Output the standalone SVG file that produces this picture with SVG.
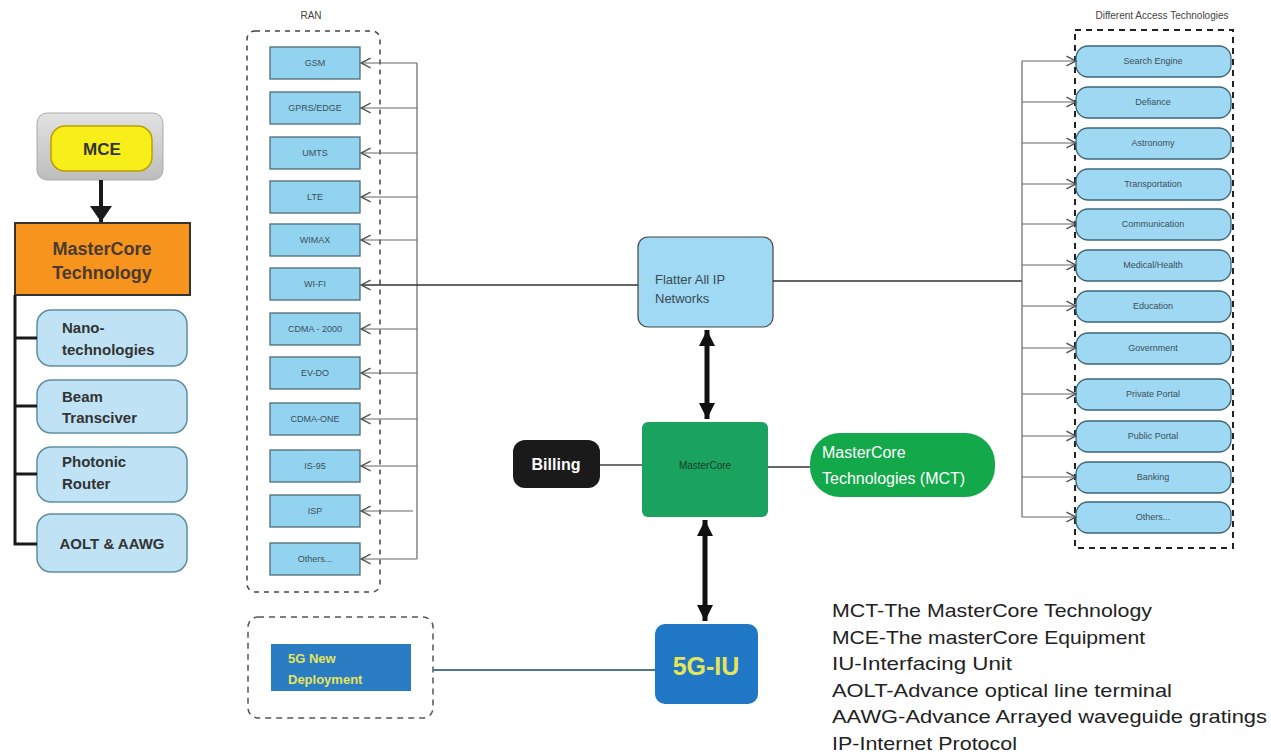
<svg xmlns="http://www.w3.org/2000/svg" width="1271" height="756" viewBox="0 0 1271 756">
<defs>
<marker id="open" markerUnits="userSpaceOnUse" markerWidth="12" markerHeight="12" viewBox="0 0 10 10" refX="9" refY="5" orient="auto">
<path d="M1,1 L9,5 L1,9" fill="none" stroke="#555" stroke-width="1.2"/>
</marker>
<marker id="solid" markerUnits="userSpaceOnUse" markerWidth="20" markerHeight="20" viewBox="0 0 20 20" refX="18" refY="10" orient="auto-start-reverse">
<path d="M2,2 L18,10 L2,18 Z" fill="#111"/>
</marker>
<marker id="down" markerUnits="userSpaceOnUse" markerWidth="24" markerHeight="24" viewBox="0 0 24 24" refX="20" refY="12" orient="auto">
<path d="M4,1 L20,12 L4,23 Z" fill="#1a1a1a"/>
</marker>
<linearGradient id="gray" x1="0" y1="0" x2="0" y2="1">
<stop offset="0" stop-color="#e2e2e2"/><stop offset="1" stop-color="#bdbdbd"/>
</linearGradient>
</defs>
<style>
text{font-family:"Liberation Sans",Arial,sans-serif}
.ran{fill:#92d3f0;stroke:#4f6b78;stroke-width:1.3}
.ranT{font-size:9px;fill:#3d4f5a;text-anchor:middle}
.acc{fill:#9fd8f2;stroke:#3d6578;stroke-width:1.3}
.accT{font-size:9px;fill:#3d4f5a;text-anchor:middle}
.tech{fill:#bfe3f5;stroke:#5f8ea3;stroke-width:1.5}
.techT{font-size:15px;font-weight:bold;fill:#333}
.thin{stroke:#666;stroke-width:1.2;fill:none}
.legend{font-size:19px;fill:#222}
</style>
<rect width="1271" height="756" fill="#ffffff"/>

<!-- Left column -->
<g id="mce">
<rect x="37" y="113" width="126" height="67" rx="10" fill="url(#gray)" stroke="#aaa" stroke-width="1"/>
<rect x="51" y="126" width="101" height="45" rx="14" fill="#f7ee1a" stroke="#b9a000" stroke-width="1.5"/>
<text x="102" y="155" font-size="17" font-weight="bold" fill="#333" text-anchor="middle">MCE</text>
</g>
<g id="mct-box">
<rect x="15" y="223" width="175" height="72" fill="#f7941d" stroke="#333" stroke-width="2"/>
<text x="102" y="255" font-size="18" font-weight="bold" fill="#4a3a30" text-anchor="middle">MasterCore</text>
<text x="102" y="279" font-size="18" font-weight="bold" fill="#4a3a30" text-anchor="middle">Technology</text>
</g>
<g id="nano">
<rect x="37" y="310" width="150" height="56" rx="14" class="tech"/>
<text x="62" y="333" class="techT">Nano-</text>
<text x="62" y="355" class="techT">technologies</text>
</g>
<g id="beam">
<rect x="37" y="380" width="150" height="53" rx="14" class="tech"/>
<text x="62" y="402" class="techT">Beam</text>
<text x="62" y="423" class="techT">Transciver</text>
</g>
<g id="photonic">
<rect x="37" y="447" width="150" height="55" rx="14" class="tech"/>
<text x="62" y="467" class="techT">Photonic</text>
<text x="62" y="489" class="techT">Router</text>
</g>
<g id="aolt">
<rect x="37" y="514" width="150" height="58" rx="14" class="tech"/>
<text x="112" y="549" class="techT" text-anchor="middle">AOLT &amp; AAWG</text>
</g>

<!-- RAN -->
<g id="ran-group">
<text x="311" y="19" font-size="10" fill="#444" text-anchor="middle">RAN</text>
<rect x="247" y="31" width="133" height="561" rx="8" fill="none" stroke="#444" stroke-width="1.5" stroke-dasharray="5 5"/>
</g>
<g id="ran-gsm"><rect x="270" y="47" width="90" height="32" class="ran"/><text x="315" y="66" class="ranT">GSM</text></g>
<g id="ran-gprs"><rect x="270" y="92" width="90" height="32" class="ran"/><text x="315" y="111" class="ranT">GPRS/EDGE</text></g>
<g id="ran-umts"><rect x="270" y="137" width="90" height="32" class="ran"/><text x="315" y="156" class="ranT">UMTS</text></g>
<g id="ran-lte"><rect x="270" y="181" width="90" height="32" class="ran"/><text x="315" y="200" class="ranT">LTE</text></g>
<g id="ran-wimax"><rect x="270" y="224" width="90" height="32" class="ran"/><text x="315" y="243" class="ranT">WIMAX</text></g>
<g id="ran-wifi"><rect x="270" y="268" width="90" height="32" class="ran"/><text x="315" y="287" class="ranT">WI-FI</text></g>
<g id="ran-cdma2000"><rect x="270" y="313" width="90" height="32" class="ran"/><text x="315" y="332" class="ranT">CDMA - 2000</text></g>
<g id="ran-evdo"><rect x="270" y="357" width="90" height="32" class="ran"/><text x="315" y="376" class="ranT">EV-DO</text></g>
<g id="ran-cdmaone"><rect x="270" y="403" width="90" height="32" class="ran"/><text x="315" y="422" class="ranT">CDMA-ONE</text></g>
<g id="ran-is95"><rect x="270" y="450" width="90" height="32" class="ran"/><text x="315" y="469" class="ranT">IS-95</text></g>
<g id="ran-isp"><rect x="270" y="495" width="90" height="32" class="ran"/><text x="315" y="514" class="ranT">ISP</text></g>
<g id="ran-others"><rect x="270" y="543" width="90" height="32" class="ran"/><text x="315" y="562" class="ranT">Others...</text></g>

<!-- Access technologies -->
<g id="access-group">
<text x="1162" y="19" font-size="10" fill="#444" text-anchor="middle">Different Access Technologies</text>
<rect x="1075" y="30" width="158" height="518" fill="none" stroke="#222" stroke-width="2" stroke-dasharray="6 5"/>
</g>
<g id="acc-search"><rect x="1076" y="46" width="155" height="31" rx="12" class="acc"/><text x="1153" y="64" class="accT">Search Engine</text></g>
<g id="acc-defiance"><rect x="1076" y="87" width="155" height="31" rx="12" class="acc"/><text x="1153" y="105" class="accT">Defiance</text></g>
<g id="acc-astronomy"><rect x="1076" y="128" width="155" height="31" rx="12" class="acc"/><text x="1153" y="146" class="accT">Astronomy</text></g>
<g id="acc-transport"><rect x="1076" y="169" width="155" height="31" rx="12" class="acc"/><text x="1153" y="187" class="accT">Transportation</text></g>
<g id="acc-comm"><rect x="1076" y="209" width="155" height="31" rx="12" class="acc"/><text x="1153" y="227" class="accT">Communication</text></g>
<g id="acc-medical"><rect x="1076" y="250" width="155" height="31" rx="12" class="acc"/><text x="1153" y="268" class="accT">Medical/Health</text></g>
<g id="acc-education"><rect x="1076" y="291" width="155" height="31" rx="12" class="acc"/><text x="1153" y="309" class="accT">Education</text></g>
<g id="acc-government"><rect x="1076" y="333" width="155" height="31" rx="12" class="acc"/><text x="1153" y="351" class="accT">Government</text></g>
<g id="acc-private"><rect x="1076" y="379" width="155" height="31" rx="12" class="acc"/><text x="1153" y="397" class="accT">Private Portal</text></g>
<g id="acc-public"><rect x="1076" y="421" width="155" height="31" rx="12" class="acc"/><text x="1153" y="439" class="accT">Public Portal</text></g>
<g id="acc-banking"><rect x="1076" y="462" width="155" height="31" rx="12" class="acc"/><text x="1153" y="480" class="accT">Banking</text></g>
<g id="acc-others"><rect x="1076" y="502" width="155" height="31" rx="12" class="acc"/><text x="1153" y="520" class="accT">Others...</text></g>

<!-- Center nodes -->
<g id="flatter">
<rect x="638" y="237" width="135" height="90" rx="10" fill="#9fd9f3" stroke="#444" stroke-width="1.2"/>
<text x="655" y="284" font-size="13" fill="#3a4a55">Flatter All IP</text>
<text x="655" y="303" font-size="13" fill="#3a4a55">Networks</text>
</g>
<g id="mastercore">
<rect x="642" y="422" width="126" height="95" rx="6" fill="#19a35f"/>
<text x="705" y="469" font-size="10" fill="#1e3a2a" text-anchor="middle">MasterCore</text>
</g>
<g id="billing">
<rect x="513" y="440" width="87" height="48" rx="12" fill="#1a1a1a"/>
<text x="556" y="470" font-size="16" font-weight="bold" fill="#fff" text-anchor="middle">Billing</text>
</g>
<g id="mct">
<rect x="810" y="433" width="185" height="64" rx="30" fill="#13a84a"/>
<text x="822" y="458" font-size="16" fill="#fff">MasterCore</text>
<text x="822" y="484" font-size="16" fill="#fff">Technologies (MCT)</text>
</g>
<g id="iu5g">
<rect x="655" y="624" width="103" height="80" rx="10" fill="#1f77c6"/>
<text x="706" y="675" font-size="25" font-weight="bold" fill="#e6e45a" text-anchor="middle">5G-IU</text>
</g>
<g id="new-deploy">
<rect x="248" y="617" width="185" height="101" rx="10" fill="none" stroke="#555" stroke-width="1.5" stroke-dasharray="6 5"/>
<rect x="271" y="644" width="140" height="47" fill="#2a7cc3"/>
<text x="288" y="663" font-size="13" font-weight="bold" fill="#e6e45a">5G New</text>
<text x="288" y="684" font-size="13" font-weight="bold" fill="#e6e45a">Deployment</text>
</g>

<!-- Legend -->
<g id="legend" class="legend">
<text x="832" y="617" class="legend" textLength="320" lengthAdjust="spacingAndGlyphs">MCT-The MasterCore Technology</text>
<text x="832" y="644" class="legend" textLength="313" lengthAdjust="spacingAndGlyphs">MCE-The masterCore Equipment</text>
<text x="832" y="670" class="legend" textLength="180" lengthAdjust="spacingAndGlyphs">IU-Interfacing Unit</text>
<text x="832" y="697" class="legend" textLength="340" lengthAdjust="spacingAndGlyphs">AOLT-Advance optical line terminal</text>
<text x="832" y="723" class="legend" textLength="435" lengthAdjust="spacingAndGlyphs">AAWG-Advance Arrayed waveguide gratings</text>
<text x="832" y="750" class="legend" textLength="185" lengthAdjust="spacingAndGlyphs">IP-Internet Protocol</text>
</g>

<!-- Connectors -->
<g id="connectors">
<!-- MCE to MasterCore Technology -->
<line x1="101" y1="180" x2="101" y2="222" stroke="#1a1a1a" stroke-width="4" marker-end="url(#down)"/>
<!-- tree -->
<path d="M15,295 V544 H37 M15,338 H37 M15,406 H37 M15,474 H37" fill="none" stroke="#1a1a1a" stroke-width="3"/>
<!-- RAN bus -->
<line x1="417" y1="63" x2="417" y2="559" class="thin"/>
<line x1="417" y1="63" x2="361" y2="63" class="thin" marker-end="url(#open)"/>
<line x1="417" y1="108" x2="361" y2="108" class="thin" marker-end="url(#open)"/>
<line x1="417" y1="153" x2="361" y2="153" class="thin" marker-end="url(#open)"/>
<line x1="417" y1="197" x2="361" y2="197" class="thin" marker-end="url(#open)"/>
<line x1="417" y1="240" x2="361" y2="240" class="thin" marker-end="url(#open)" stroke="#333"/>
<line x1="417" y1="329" x2="361" y2="329" class="thin" marker-end="url(#open)"/>
<line x1="417" y1="373" x2="361" y2="373" class="thin" marker-end="url(#open)"/>
<line x1="417" y1="419" x2="361" y2="419" class="thin" marker-end="url(#open)"/>
<line x1="417" y1="466" x2="361" y2="466" class="thin" marker-end="url(#open)"/>
<line x1="413" y1="511" x2="361" y2="511" class="thin" marker-end="url(#open)" stroke="#333"/>
<line x1="417" y1="559" x2="361" y2="559" class="thin" marker-end="url(#open)"/>
<!-- WIFI to Flatter -->
<line x1="638" y1="285" x2="361" y2="285" stroke="#333" stroke-width="1.5" fill="none" marker-end="url(#open)"/>
<!-- Flatter to access bus -->
<line x1="773" y1="281" x2="1022" y2="281" stroke="#333" stroke-width="1.5"/>
<line x1="1022" y1="61" x2="1022" y2="517" class="thin"/>
<line x1="1022" y1="61" x2="1076" y2="61" class="thin" marker-end="url(#open)" stroke="#333"/>
<line x1="1022" y1="102" x2="1076" y2="102" class="thin" marker-end="url(#open)" stroke="#333"/>
<line x1="1022" y1="143" x2="1076" y2="143" class="thin" marker-end="url(#open)"/>
<line x1="1022" y1="184" x2="1076" y2="184" class="thin" marker-end="url(#open)" stroke="#333"/>
<line x1="1022" y1="224" x2="1076" y2="224" class="thin" marker-end="url(#open)"/>
<line x1="1022" y1="265" x2="1076" y2="265" class="thin" marker-end="url(#open)"/>
<line x1="1022" y1="306" x2="1076" y2="306" class="thin" marker-end="url(#open)"/>
<line x1="1022" y1="348" x2="1076" y2="348" class="thin" marker-end="url(#open)"/>
<line x1="1022" y1="394" x2="1076" y2="394" class="thin" marker-end="url(#open)"/>
<line x1="1022" y1="436" x2="1076" y2="436" class="thin" marker-end="url(#open)" stroke="#333"/>
<line x1="1022" y1="477" x2="1076" y2="477" class="thin" marker-end="url(#open)"/>
<line x1="1022" y1="517" x2="1076" y2="517" class="thin" marker-end="url(#open)"/>
<!-- double arrows -->
<line x1="707" y1="330" x2="707" y2="419" stroke="#111" stroke-width="5" marker-start="url(#solid)" marker-end="url(#solid)"/>
<line x1="705" y1="520" x2="705" y2="621" stroke="#111" stroke-width="5" marker-start="url(#solid)" marker-end="url(#solid)"/>
<!-- billing / mct -->
<line x1="600" y1="465" x2="642" y2="465" stroke="#444" stroke-width="1.5"/>
<line x1="768" y1="467" x2="810" y2="467" stroke="#333" stroke-width="1.5"/>
<!-- new deployment to 5G-IU -->
<line x1="433" y1="670" x2="655" y2="670" stroke="#4a7888" stroke-width="2"/>
</g>
</svg>
